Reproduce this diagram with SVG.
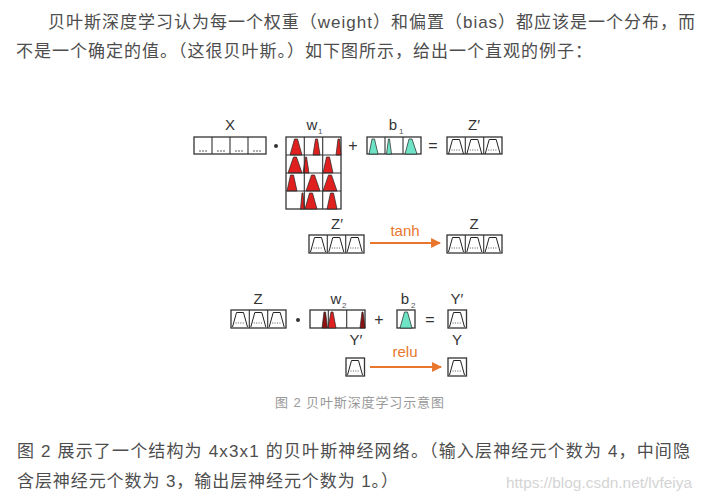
<svg xmlns="http://www.w3.org/2000/svg" width="702" height="500" viewBox="0 0 702 500">
<style>
.body{font-family:"Liberation Sans","Noto Sans CJK SC",sans-serif;font-size:17px;fill:#4d4d4d}
.cap{font-family:"Liberation Sans","Noto Sans CJK SC",sans-serif;font-size:13px;fill:#999}
.wm{font-family:"Liberation Sans",sans-serif;font-size:14px;fill:#d4d4d4}
.lbl{font-family:"Liberation Sans",sans-serif;font-size:15px;fill:#333;text-anchor:middle}
.sub{font-family:"Liberation Sans",sans-serif;font-size:8px;fill:#555}
.op{font-family:"Liberation Sans",sans-serif;font-size:16px;fill:#333;text-anchor:middle}
.fn{font-family:"Liberation Sans",sans-serif;font-size:15px;fill:#E8762D;text-anchor:middle}
.box{fill:#fff;stroke:#333;stroke-width:1.3}
.div{stroke:#333;stroke-width:1.1}
.red{fill:#E0201E;stroke:#222;stroke-width:0.7}
.dred{fill:#8E1010;stroke:#222;stroke-width:0.7}
.teal{fill:#6EE3C6;stroke:#222;stroke-width:0.7}
.tr{fill:none;stroke:#222;stroke-width:1}
.dots{fill:none;stroke:#444;stroke-width:0.9;stroke-dasharray:1 1.4}
.arr{stroke:#E8762D;stroke-width:1.8;fill:none}
</style>
<defs>
<g id="zc">
<path class="tr" d="M1.5,17 L5.5,2.5 L12.5,2.5 L16.5,17"/>
<path class="dots" d="M4.5,13 H13.5"/>
</g>
<g id="xd" fill="#444">
<circle cx="6" cy="12" r="0.8"/><circle cx="9" cy="12" r="0.8"/><circle cx="12" cy="12" r="0.8"/>
</g>
<marker id="ah" viewBox="0 0 10 10" refX="9" refY="5" markerWidth="5.5" markerHeight="5.5" orient="auto" markerUnits="strokeWidth">
<path d="M0,0 L10,5 L0,10 Z" fill="#E8762D"/>
</marker>
</defs>
<rect width="702" height="500" fill="#fff"/>

<text class="body" x="48" y="28" textLength="647" lengthAdjust="spacing">贝叶斯深度学习认为每一个权重（weight）和偏置（bias）都应该是一个分布，而</text>
<text class="body" x="16" y="57" textLength="576" lengthAdjust="spacing">不是一个确定的值。（这很贝叶斯。）如下图所示，给出一个直观的例子：</text>

<g id="X">
<text class="lbl" x="230" y="130">X</text>
<rect class="box" x="194" y="137" width="72" height="17"/>
<path class="div" d="M212,137V154M230,137V154M248,137V154"/>
<use href="#xd" x="194" y="139"/><use href="#xd" x="212" y="139"/><use href="#xd" x="230" y="139"/><use href="#xd" x="248" y="139"/>
</g>
<circle cx="276" cy="146" r="2" fill="#333"/>

<g id="w1">
<text class="lbl" x="312" y="130">w</text><text class="sub" x="318" y="134">1</text>
<rect class="box" x="286" y="137" width="55" height="72"/>
<polygon class="red" points="290,155 294.5,139 297.5,139 302,155"/>
<polygon class="red" points="313,155 315.5,139 317.5,139 320,155"/>
<polygon class="red" points="336,155 338,139 339.5,139 341,155"/>
<polygon class="red" points="288,173 293.5,157 296.5,157 302,173"/>
<polygon class="red" points="303,173 305.5,157 306.5,157 309,173"/>
<polygon class="red" points="323,173 326.5,157 329.5,157 333,173"/>
<polygon class="red" points="287,191 290.5,175 293.5,175 297,191"/>
<polygon class="red" points="306,191 311.5,175 314.5,175 320,191"/>
<polygon class="red" points="323,191 328.5,175 331.5,175 337,191"/>
<polygon class="red" points="300.5,209 302,193 303,193 304.5,209"/>
<polygon class="red" points="305,209 309.5,193 312.5,193 317,209"/>
<polygon class="red" points="327,209 330.5,193 333.5,193 337,209"/>
<path class="div" d="M304.3,137V209M322.7,137V209M286,155H341M286,173H341M286,191H341"/>
</g>
<text class="op" x="353" y="151">+</text>

<g id="b1">
<text class="lbl" x="393" y="130">b</text><text class="sub" x="399" y="134">1</text>
<rect class="box" x="367" y="137" width="54" height="17"/>
<polygon class="teal" points="369,154 372,139 374.5,139 378,154"/>
<polygon class="teal" points="386.5,154 388.5,139 389.5,139 391.5,154"/>
<polygon class="teal" points="405,154 409,139 412,139 417,154"/>
<path class="div" d="M385,137V154M403,137V154"/>
</g>
<text class="op" x="433" y="151">=</text>

<g id="Zp1">
<text class="lbl" x="474" y="130">Z′</text>
<rect class="box" x="447" y="137" width="55" height="17"/>
<use href="#zc" x="447" y="137"/><use href="#zc" x="465.3" y="137"/><use href="#zc" x="483.7" y="137"/>
<path class="div" d="M465.3,137V154M483.7,137V154"/>
</g>

<g id="Zp2">
<text class="lbl" x="337" y="229">Z′</text>
<rect class="box" x="309" y="235" width="55" height="18"/>
<use href="#zc" x="309" y="235"/><use href="#zc" x="327.3" y="235"/><use href="#zc" x="345.7" y="235"/>
<path class="div" d="M327.3,235V253M345.7,235V253"/>
</g>

<g id="Z2">
<text class="lbl" x="474" y="229">Z</text>
<rect class="box" x="447" y="235" width="55" height="18"/>
<use href="#zc" x="447" y="235"/><use href="#zc" x="465.3" y="235"/><use href="#zc" x="483.7" y="235"/>
<path class="div" d="M465.3,235V253M483.7,235V253"/>
</g>

<g id="Z3">
<text class="lbl" x="258" y="304">Z</text>
<rect class="box" x="231" y="310" width="55" height="18"/>
<use href="#zc" x="231" y="310"/><use href="#zc" x="249.3" y="310"/><use href="#zc" x="267.7" y="310"/>
<path class="div" d="M249.3,310V328M267.7,310V328"/>
</g>
<circle cx="298" cy="320" r="2" fill="#333"/>

<g id="w2">
<text class="lbl" x="336" y="304">w</text><text class="sub" x="342" y="308">2</text>
<rect class="box" x="310" y="310" width="55" height="18"/>
<polygon class="dred" points="322,328 324,312 325.5,312 327.5,328"/>
<polygon class="red" points="328,328 331,312 333,312 336,328"/>
<polygon class="dred" points="360,328 362,312 363,312 365,328"/>
<path class="div" d="M328.3,310V328M346.7,310V328"/>
</g>
<text class="op" x="379" y="325">+</text>

<g id="b2">
<text class="lbl" x="405" y="304">b</text><text class="sub" x="411" y="308">2</text>
<rect class="box" x="397" y="310" width="18" height="18"/>
<polygon class="teal" points="400,328 404.5,312 407.5,312 412,328"/>
</g>
<text class="op" x="430" y="325">=</text>

<g id="Yp1">
<text class="lbl" x="457" y="304">Y′</text>
<rect class="box" x="448" y="310" width="18.5" height="18"/>
<use href="#zc" x="448" y="310"/>
</g>

<g id="Yp2">
<text class="lbl" x="356" y="345">Y′</text>
<rect class="box" x="346" y="358" width="18.5" height="18"/>
<use href="#zc" x="346" y="358"/>
</g>

<g id="Y">
<text class="lbl" x="457" y="345">Y</text>
<rect class="box" x="448" y="358" width="18.5" height="18"/>
<use href="#zc" x="448" y="358"/>
</g>

<g id="connectors">
<path class="arr" d="M370,243H440" marker-end="url(#ah)"/>
<text class="fn" x="405" y="236">tanh</text>
<path class="arr" d="M370,367H441" marker-end="url(#ah)"/>
<text class="fn" x="405" y="357">relu</text>
</g>

<text class="cap" x="275" y="407" textLength="169" lengthAdjust="spacing">图 2 贝叶斯深度学习示意图</text>

<text class="body" x="17" y="457" textLength="673" lengthAdjust="spacing">图 2 展示了一个结构为 4x3x1 的贝叶斯神经网络。（输入层神经元个数为 4，中间隐</text>
<text class="body" x="17" y="487" textLength="381" lengthAdjust="spacing">含层神经元个数为 3，输出层神经元个数为 1。）</text>
<text class="wm" x="506" y="488" textLength="186" lengthAdjust="spacingAndGlyphs">https://blog.csdn.net/lvfeiya</text>
</svg>
